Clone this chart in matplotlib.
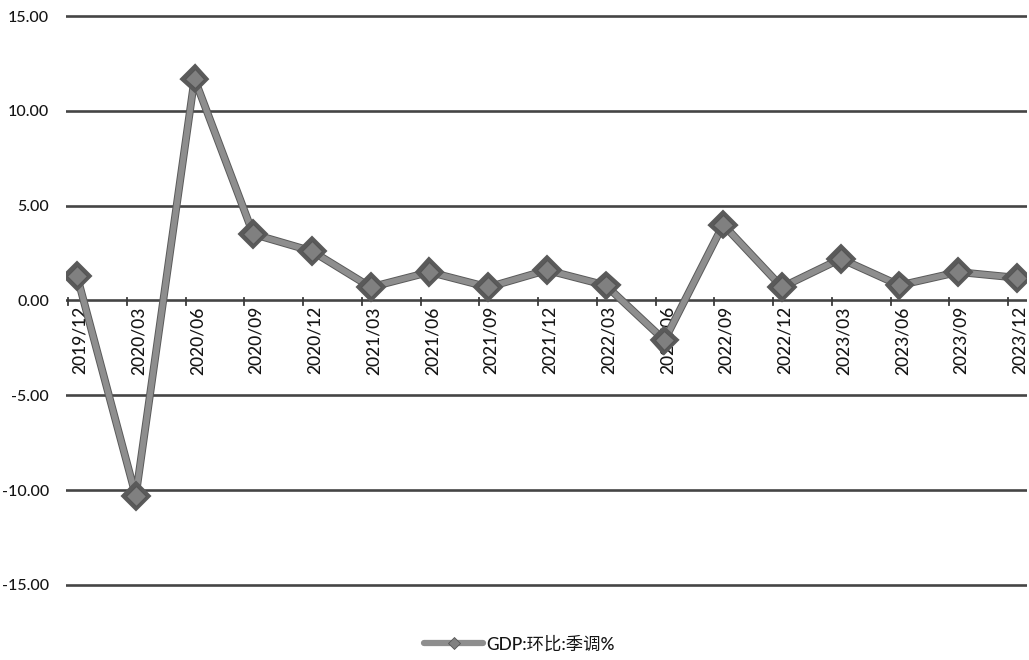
import matplotlib
matplotlib.use("Agg")
import matplotlib.pyplot as plt
import matplotlib.patheffects as pe
from matplotlib.lines import Line2D
import numpy as np

categories = ["2019/12", "2020/03", "2020/06", "2020/09", "2020/12",
              "2021/03", "2021/06", "2021/09", "2021/12", "2022/03",
              "2022/06", "2022/09", "2022/12", "2023/03", "2023/06",
              "2023/09", "2023/12"]
gdp_qoq = [1.3, -10.3, 11.7, 3.5, 2.6,
           0.7, 1.5, 0.7, 1.6, 0.8,
           -2.1, 4.0, 0.7, 2.2, 0.8,
           1.5, 1.2]
yticks = [-15, -10, -5, 0, 5, 10, 15]
series_name = "GDP:环比:季调%"

plt.rcParams['font.family'] = ['Lato', 'Noto Sans CJK SC', 'DejaVu Sans']

fig = plt.figure(figsize=(10.29, 6.60), dpi=100)
ax = fig.add_axes([0.064, 0.1079, 0.934, 0.8736])

x = np.arange(len(categories))
line_color = "#8e8e8e"
edge_color = "#5a5a5a"

ax.plot(x, gdp_qoq, color=line_color, linewidth=4.2, solid_capstyle='round',
        path_effects=[pe.Stroke(linewidth=5.6, foreground=edge_color), pe.Normal()],
        marker='D', markersize=10, markerfacecolor="#808080",
        markeredgecolor="#555555", markeredgewidth=0.8,
        label=series_name, zorder=3)

ax.set_ylim(-15.2, 15.2)
ax.set_xlim(-0.19, 16.17)
ax.set_yticks(yticks)
ax.set_yticklabels([f"{v:.2f}" for v in yticks], fontsize=11.5, color="#151515",
                   fontweight='medium')
ax.tick_params(axis='y', length=0, pad=12)

for v in yticks:
    ax.axhline(v, color="#454545", linewidth=1.9, zorder=1)

for s in ax.spines.values():
    s.set_visible(False)

ax.set_xticks([])
# category labels just below the zero line
for xi, lab in zip(x, categories):
    ax.text(xi + 0.05, -0.3, lab, rotation=90, ha='center', va='top',
            fontsize=12.5, color="#151515", fontweight='medium', zorder=2)
# small tick marks on the zero line
for xi in x:
    ax.plot([xi - 0.15, xi - 0.15], [-0.25, 0.15], color="#3a3a3a",
            linewidth=1.3, zorder=2)

proxy = Line2D([], [], color=line_color, linewidth=4.5, solid_capstyle='round',
               marker='D', markersize=6.5, markerfacecolor="#808080",
               markeredgecolor="#555555", markeredgewidth=0.6)
leg = fig.legend([proxy], [series_name], loc='lower center',
                 bbox_to_anchor=(0.505, -0.012), frameon=False,
                 fontsize=12.5, handlelength=3.4, handletextpad=0.2)
for t in leg.get_texts():
    t.set_color("#151515")
    t.set_fontweight('medium')

fig.savefig("out.png", dpi=100, facecolor="white")
